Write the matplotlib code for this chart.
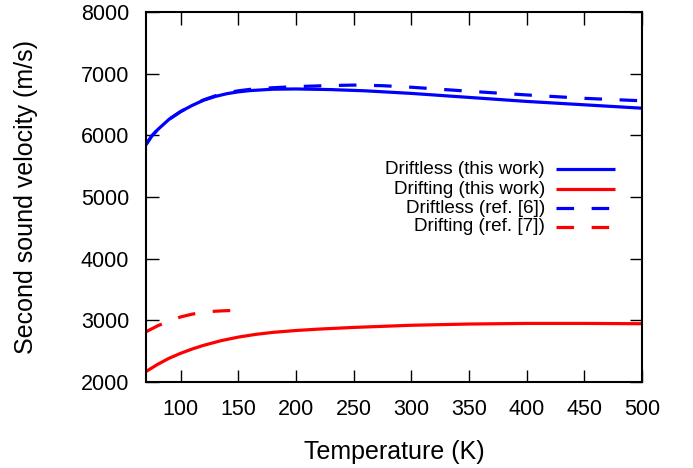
import matplotlib
matplotlib.use("Agg")
import matplotlib.pyplot as plt

# Data
T_driftless = [70, 75, 80, 90, 100, 110, 120, 130, 140, 150, 160, 180, 200, 230, 260,
               300, 350, 400, 450, 500]
v_driftless = [5850, 5990, 6090, 6260, 6385, 6485, 6570, 6630, 6675, 6705, 6725, 6748,
               6752, 6742, 6722, 6680, 6615, 6550, 6495, 6440]

T_drifting = [70, 80, 90, 100, 110, 120, 135, 150, 165, 180, 200, 220, 250, 300, 350,
              400, 450, 500]
v_drifting = [2170, 2285, 2385, 2465, 2535, 2595, 2670, 2728, 2772, 2805, 2835, 2858,
              2885, 2920, 2940, 2950, 2950, 2945]

T_ref6 = [70, 75, 80, 90, 100, 110, 120, 130, 140, 150, 160, 180, 200, 225, 250, 275,
          300, 350, 400, 450, 500]
v_driftless_ref6 = [5850, 5990, 6090, 6260, 6385, 6485, 6575, 6640, 6690, 6722, 6745,
                    6772, 6790, 6805, 6815, 6805, 6780, 6715, 6655, 6600, 6560]

T_ref7 = [70, 80, 90, 100, 110, 120, 130, 140, 150]
v_drifting_ref7 = [2815, 2910, 2990, 3055, 3100, 3130, 3148, 3157, 3160]

labels = ["Driftless (this work)", "Drifting (this work)",
          "Driftless (ref. [6])", "Drifting (ref. [7])"]

xticks = [100, 150, 200, 250, 300, 350, 400, 450, 500]
yticks = [2000, 3000, 4000, 5000, 6000, 7000, 8000]

plt.rcParams['font.family'] = ['Liberation Sans', 'DejaVu Sans']

fig = plt.figure(figsize=(6.93, 4.68), dpi=100)
ax = fig.add_axes([146/693, 1-382/468, 496/693, 370/468])

blue = '#0000ff'
red = '#ff0000'
lw = 2.3
dash = (0, (5.5, 5.5))

series = [
    (T_driftless, v_driftless, blue, '-'),
    (T_drifting, v_drifting, red, '-'),
    (T_ref6, v_driftless_ref6, blue, dash),
    (T_ref7, v_drifting_ref7, red, dash),
]
for x, y, c, ls in series:
    ax.plot(x, y, color=c, lw=lw, linestyle=ls, solid_capstyle='butt',
            dash_capstyle='butt', solid_joinstyle='round')

ax.set_xlim(70, 500)
ax.set_ylim(2000, 8000)
ax.set_xticks(xticks)
ax.set_yticks(yticks)
ax.tick_params(direction='in', length=9, width=1, top=True, right=True,
               labelsize=15.5)
ax.tick_params(axis='y', pad=12)
ax.tick_params(axis='x', pad=12)
for s in ax.spines.values():
    s.set_linewidth(1.5)

ax.set_xlabel("Temperature (K)", fontsize=18, labelpad=15)
ax.set_ylabel("Second sound velocity (m/s)", fontsize=18, labelpad=31)

# manual legend (gnuplot style: right-aligned text, sample to the right)
rows = [0.575, 0.521, 0.470, 0.419]
for (x, y, c, ls), lab, ry in zip(series, labels, rows):
    ax.text(0.804, ry, lab, transform=ax.transAxes, ha='right', va='center',
            fontsize=13.6)
    ax.plot([0.827, 0.946], [ry, ry], transform=ax.transAxes, color=c, lw=lw,
            linestyle=ls, solid_capstyle='butt', dash_capstyle='butt')

fig.savefig("out.png", dpi=100)
